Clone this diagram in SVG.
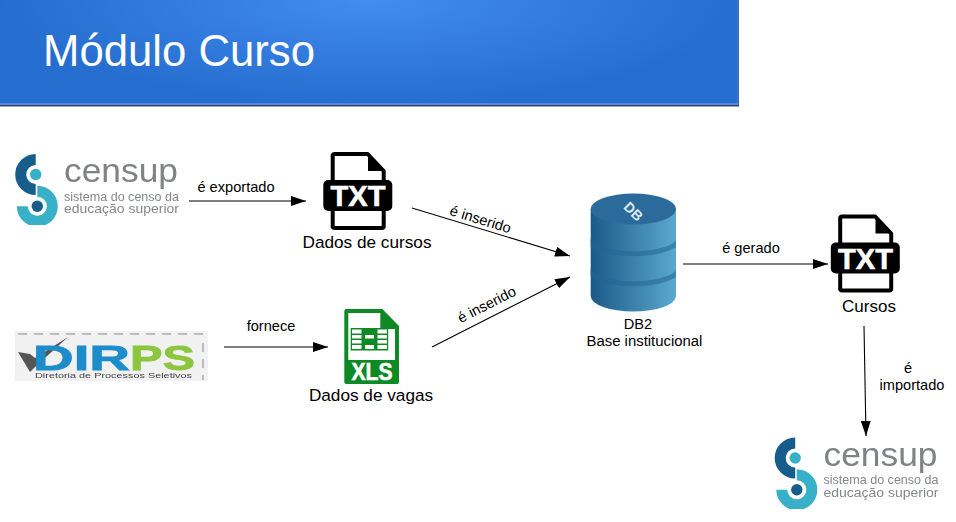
<svg xmlns="http://www.w3.org/2000/svg" xmlns:xlink="http://www.w3.org/1999/xlink" width="956" height="522" viewBox="0 0 956 522">
<style>
text{font-family:"Liberation Sans",Arial,sans-serif}
.lbl{font-size:14.6px;fill:#000;text-anchor:middle}
.node{font-size:17.2px;fill:#000;text-anchor:middle}
.conn{stroke:#000;stroke-width:1.1;fill:none;marker-end:url(#arr)}
.cen1{font-size:33px;fill:#808284}
.cen2{font-size:13.6px;fill:#858789}
.ico{font-weight:bold;fill:#fff;stroke:#fff;stroke-width:.6;text-anchor:middle}
</style>
<defs>
<radialGradient id="hdr" gradientUnits="userSpaceOnUse" cx="370" cy="0" r="1" gradientTransform="translate(370 0) scale(370 105) translate(-370 0)">
<stop offset="0" stop-color="#438cf0"/><stop offset="1" stop-color="#256dce"/>
</radialGradient>
<linearGradient id="cyl" x1="0" x2="1" y1="0" y2="0"><stop offset="0" stop-color="#1b5a89"/><stop offset="1" stop-color="#5aa9cd"/></linearGradient>
<linearGradient id="cyl2" x1="0" x2="1" y1="0" y2="0"><stop offset="0" stop-color="#1c5f90"/><stop offset="1" stop-color="#3d86ad"/></linearGradient>
<clipPath id="cylClip"><path d="M590.700 209V296A42.650 15.500 0 0 0 676 296V209Z"/></clipPath>
<filter id="soft" x="-5%" y="-5%" width="110%" height="110%"><feGaussianBlur stdDeviation="0.4"/></filter>
<marker id="arr" markerUnits="userSpaceOnUse" markerWidth="16" markerHeight="10" refX="15" refY="5" orient="auto"><path d="M0 0L15 5L0 10Z" fill="#000"/></marker>
<g id="censupMark">
<path d="M35.700 159.500A15 15 0 0 0 35.700 189.500" fill="none" stroke="#175d8c" stroke-width="11"/>
<circle cx="35.700" cy="174.500" r="5.700" fill="#39b1c8"/>
<path d="M37.300 191.200A15 15 0 1 1 22.300 206.200" fill="none" stroke="#39b1c8" stroke-width="11"/>
<circle cx="37.300" cy="206.200" r="5.700" fill="#175d8c"/>
</g>
<g id="txtBody">
<path d="M332.700 155a2 2 0 0 1 2-1h33l16 17v56a2 2 0 0 1-2 1h-47a2 2 0 0 1-2-1Z" fill="#fff" stroke="#000" stroke-width="4" stroke-linejoin="round"/>
<path d="M368 153l17 18h-17Z" fill="#000"/>
<rect x="323.300" y="180" width="69" height="31" rx="5" fill="#000"/>
</g>
</defs>

<g id="header">
<rect x="0" y="0" width="739" height="106.500" fill="#3b4664"/>
<rect x="0" y="0" width="738.500" height="105" fill="#4f86e2"/>
<rect x="0" y="0" width="737.500" height="103" fill="url(#hdr)"/>
<text x="43" y="66" font-size="43.700" fill="#fff">Módulo Curso</text>
</g>

<g id="connectors">
<line class="conn" x1="189" y1="201" x2="306" y2="201"/>
<line class="conn" x1="412" y1="208" x2="570" y2="256"/>
<line class="conn" x1="224" y1="347" x2="328" y2="347"/>
<line class="conn" x1="432" y1="347" x2="570" y2="277"/>
<line class="conn" x1="683" y1="264" x2="828" y2="264"/>
<line class="conn" x1="864" y1="326" x2="866" y2="436"/>
<text class="lbl" x="236" y="192">é exportado</text>
<text class="lbl" transform="translate(479 224) rotate(17)">é inserido</text>
<text class="lbl" x="271" y="331">fornece</text>
<text class="lbl" transform="translate(489 309) rotate(-27)">é inserido</text>
<text class="lbl" x="751" y="253">é gerado</text>
<text class="lbl" x="908" y="373">é</text>
<text class="lbl" x="912" y="390">importado</text>
</g>

<g id="censup-top" filter="url(#soft)">
<use xlink:href="#censupMark" href="#censupMark"/>
<text class="cen1" x="64" y="182" textLength="114" lengthAdjust="spacingAndGlyphs">censup</text>
<text class="cen2" x="64" y="200.500" textLength="115" lengthAdjust="spacingAndGlyphs">sistema do censo da</text>
<text class="cen2" x="64" y="213" textLength="115" lengthAdjust="spacingAndGlyphs">educação superior</text>
</g>

<g id="dados-cursos">
<use xlink:href="#txtBody" href="#txtBody"/>
<text class="ico" x="358" y="206" font-size="30" textLength="55" lengthAdjust="spacingAndGlyphs">TXT</text>
<text class="node" x="367" y="248">Dados de cursos</text>
</g>

<g id="dirps" filter="url(#soft)">
<rect x="15" y="331" width="193" height="50" fill="#f1f1f1"/>
<path d="M18 334H203M203 343V380" stroke="#bdbdbd" stroke-width="2" stroke-dasharray="9 7" fill="none"/>
<path d="M18 352L30 354L35 358L68 337L36 366L30 372Z" fill="#555"/>
<text x="33" y="369.500" font-size="35" font-weight="bold" fill="#1f8ccb" stroke="#1f8ccb" stroke-width=".8" textLength="97" lengthAdjust="spacingAndGlyphs">DIR</text>
<text x="130" y="369.500" font-size="35" font-weight="bold" fill="#8cc63f" stroke="#8cc63f" stroke-width=".8" textLength="65" lengthAdjust="spacingAndGlyphs">PS</text>
<text x="35" y="377.500" font-size="7.500" fill="#444" textLength="157" lengthAdjust="spacingAndGlyphs">Diretoria de Processos Seletivos</text>
</g>

<g id="dados-vagas">
<path d="M344.300 311a2 2 0 0 1 2-2h36l16.700 17v56a2 2 0 0 1-2 2h-50.700a2 2 0 0 1-2-2Z" fill="#0e8a25"/>
<path d="M348.300 313h32v16h14.700v31h-46.700Z" fill="#fff"/>
<path d="M381 310l17 17h-17Z" fill="#0e8a25"/>
<rect x="350.700" y="328" width="37.500" height="22.500" fill="#0e8a25"/>
<g fill="#fff">
<rect x="352" y="329.500" width="9.500" height="4"/><rect x="352" y="335" width="9.500" height="3.500"/><rect x="352" y="340" width="9.500" height="3.500"/><rect x="352" y="345" width="9.500" height="4"/>
<rect x="365" y="335" width="9" height="3.500"/><rect x="365" y="345" width="9" height="4"/>
<rect x="377.500" y="329.500" width="9.500" height="4"/><rect x="377.500" y="335" width="9.500" height="3.500"/><rect x="377.500" y="340" width="9.500" height="3.500"/><rect x="377.500" y="345" width="9.500" height="4"/>
</g>
<text class="ico" x="372" y="380" font-size="24" textLength="41" lengthAdjust="spacingAndGlyphs">XLS</text>
<text class="node" x="371" y="401">Dados de vagas</text>
</g>

<g id="db2">
<path d="M590.700 209V296A42.650 15.500 0 0 0 676 296V209Z" fill="url(#cyl)"/>
<g clip-path="url(#cylClip)">
<path d="M588 238A45 15.500 0 0 0 679 238" fill="none" stroke="url(#cyl2)" stroke-width="5"/>
<path d="M588 268A45 15.500 0 0 0 679 268" fill="none" stroke="url(#cyl2)" stroke-width="5"/>
</g>
<ellipse cx="633.350" cy="209" rx="42.650" ry="15.500" fill="#2b6a9a"/>
<text transform="translate(630 215) rotate(45)" font-size="14" font-weight="bold" fill="#dce9f2" text-anchor="middle">DB</text>
<text class="lbl" x="638" y="329">DB2</text>
<text class="lbl" x="644.500" y="346" style="font-size:14.900px">Base institucional</text>
</g>

<g id="cursos">
<use xlink:href="#txtBody" href="#txtBody" transform="translate(507.500 62.500)"/>
<text class="ico" x="865.500" y="268.500" font-size="30" textLength="55" lengthAdjust="spacingAndGlyphs">TXT</text>
<text class="lbl" x="869" y="312" style="font-size:17px">Cursos</text>
</g>

<g id="censup-bottom" filter="url(#soft)" transform="translate(759.500 283.500)">
<use xlink:href="#censupMark" href="#censupMark"/>
<text class="cen1" x="64" y="182" textLength="114" lengthAdjust="spacingAndGlyphs">censup</text>
<text class="cen2" x="64" y="200.500" textLength="115" lengthAdjust="spacingAndGlyphs">sistema do censo da</text>
<text class="cen2" x="64" y="213" textLength="115" lengthAdjust="spacingAndGlyphs">educação superior</text>
</g>
</svg>
